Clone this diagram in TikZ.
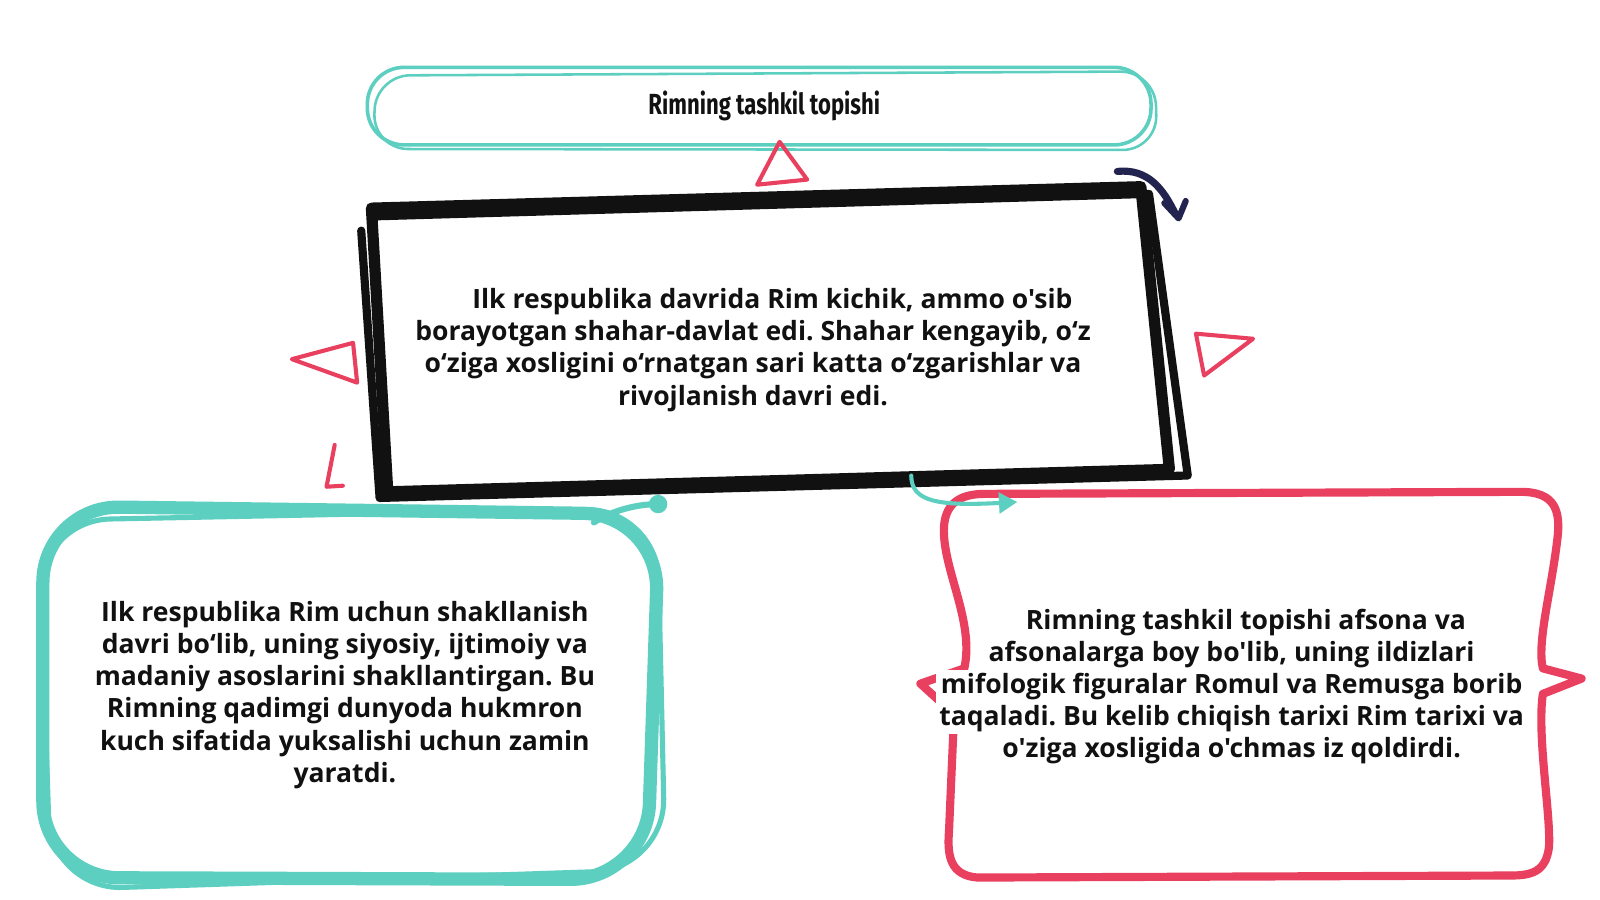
\documentclass[tikz,border=0pt]{standalone}
\usepackage{fontspec}
\usepackage{tikz}
\usetikzlibrary{arrows.meta}
\newfontfamily\bodyfont{Open Sans}[Ligatures=TeXOff]
\newfontfamily\titlefont{Fira Sans}[FakeStretch=0.76]
\definecolor{mint}{HTML}{5DCFC0}
\definecolor{rose}{HTML}{E8405E}
\definecolor{ink}{HTML}{111111}
\definecolor{navyink}{HTML}{23234F}
\frenchspacing
\begin{document}
\begin{tikzpicture}[x=1pt,y=-1pt,line cap=round,line join=round,
  mintline/.style={draw=mint,line width=3.5pt},
  inkline/.style={draw=ink,line width=11pt},
  roseline/.style={draw=rose,line width=4pt},
  bodytext/.style={align=center,text=ink,font=\bodyfont\bfseries\fontsize{26}{31.5}\selectfont},
  titletext/.style={text=ink,font=\titlefont\bfseries\fontsize{28.5}{32}\selectfont}]
			\fill[white] (0,0) rectangle (1568,882);
			\useasboundingbox (0,0) rectangle (1568,882);
			\draw[mintline, rounded corners=36pt] (360,66) -- (1128,66) -- (1128,142) -- (360,142) -- cycle;
			\draw[mintline, line width=2.5pt, rounded corners=34pt] (368,74) -- (1132,70) -- (1134,147) -- (366,146) -- cycle;
			\node[titletext] (title) at (749,104) {Rimning tashkil topishi};
			\draw[roseline] (764,139) -- (742,181) -- (791,176) -- cycle;
			\draw[inkline] (364,204) -- (1118,183) -- (1146,460) -- (380,482) -- cycle;
			\draw[inkline, line width=8pt] (368,212) -- (1126,190) -- (1164,466) -- (372,488) -- (354,226);
			\draw[draw=navyink, line width=7pt] (1095,168) .. controls (1125,165) and (1140,185) .. (1152,210);
			\draw[draw=navyink, line width=6pt] (1141,199) -- (1155,214) -- (1162,197);
			\node[bodytext] (davr) at (738,343) {\hspace*{38pt}Ilk respublika davrida Rim kichik, ammo o'sib\\
				borayotgan shahar-davlat edi. Shahar kengayib, o‘z\\
				o‘ziga xosligini o‘rnatgan sari katta o‘zgarishlar va\\
				rivojlanish davri edi.};
			\draw[roseline] (286,352) -- (346,336) -- (350,375) -- cycle;
			\draw[roseline] (1172,327) -- (1228,332) -- (1180,368) -- cycle;
			\draw[roseline] (328,436) -- (320,477) -- (336,476);
			\draw[mintline, line width=13pt, rounded corners=75pt] (42,496) -- (646,504) -- (634,862) -- (42,860) -- cycle;
			\draw[mintline, line width=5pt, rounded corners=70pt] (38,510) -- (644,498) -- (652,852) -- (50,872) -- cycle;
			\coordinate (asosNE) at (582,512);
			\coordinate (davrSW) at (645,494);
			\draw[mintline, line width=6pt] (asosNE) .. controls (600,500) and (625,494) .. (davrSW);
			\fill[mint] (davrSW) circle (9);
			\node[bodytext] (asos) at (338,681) {Ilk respublika Rim uchun shakllanish\\
				davri bo‘lib, uning siyosiy, ijtimoiy va\\
				madaniy asoslarini shakllantirgan. Bu\\
				Rimning qadimgi dunyoda hukmron\\
				kuch sifatida yuksalishi uchun zamin\\
				yaratdi.};
			\draw[roseline, line width=8pt] (965,484) -- (1490,482) .. controls (1524,482) and (1530,500) .. (1526,530)
				.. controls (1520,580) and (1506,630) .. (1512,655) -- (1550,665) -- (1512,680)
				.. controls (1506,720) and (1520,800) .. (1518,830) .. controls (1515,855) and (1500,858) .. (1480,858)
				-- (958,860) .. controls (932,858) and (928,840) .. (930,815) -- (935,700) -- (902,670) -- (945,655)
				.. controls (955,610) and (925,560) .. (925,520) .. controls (925,494) and (940,484) .. (965,484) -- cycle;
			\fill[white] (917,657) rectangle (1497,719);
			\coordinate (davrSE) at (893,466);
			\coordinate (afsonaNW) at (997,492);
			\draw[mintline, line width=4pt, -{Triangle[width=20pt,length=18pt]}] (davrSE) .. controls (893,492) and (920,496) .. (afsonaNW);
			\node[bodytext] (afsona) at (1207,673) {\hspace*{28pt}Rimning tashkil topishi afsona va\\
				afsonalarga boy bo'lib, uning ildizlari\\
				mifologik figuralar Romul va Remusga borib\\
				taqaladi. Bu kelib chiqish tarixi Rim tarixi va\\
				o'ziga xosligida o'chmas iz qoldirdi.};
		\end{tikzpicture}
\end{document}
